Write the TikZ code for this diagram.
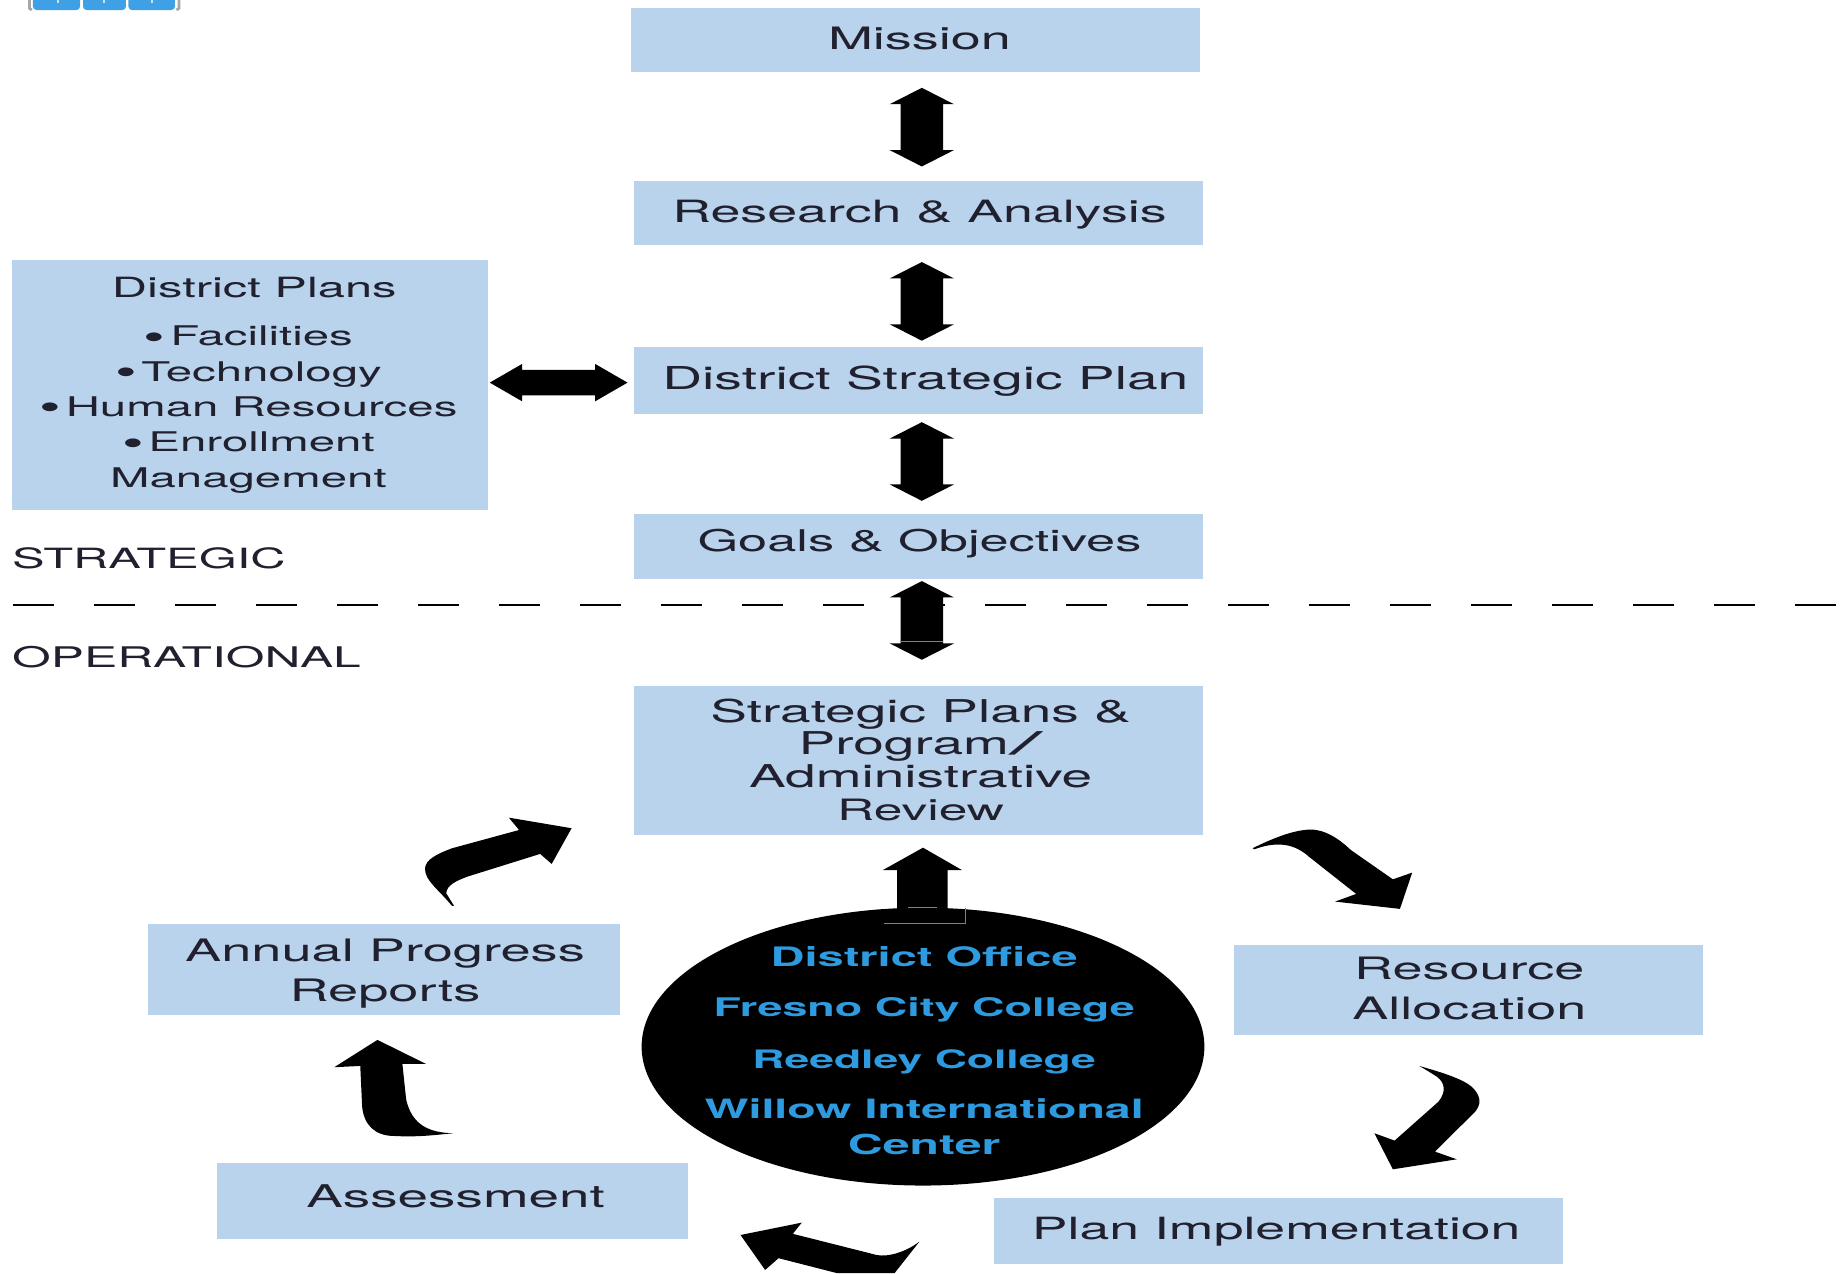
\documentclass[tikz,border=0pt]{standalone}
\usepackage{fontspec}
\setmainfont[FakeStretch=1.75]{TeX Gyre Heros}
\usetikzlibrary{shapes.geometric,shapes.arrows}
\definecolor{boxblue}{HTML}{BAD3ED}
\definecolor{inktext}{HTML}{20202E}
\definecolor{celltext}{HTML}{2E9BE0}
\definecolor{toolblue}{HTML}{3FA0E5}
\newcommand{\fs}[1]{\fontsize{#1pt}{14pt}\selectfont}
\newcommand{\bul}{\raisebox{-1.3pt}{\fontsize{15pt}{15pt}\selectfont •}\hspace{2pt}}
\tikzset{
  px/.style={x=0.5pt,y=-0.5pt},
  boxnode/.style={fill=boxblue,draw=none,inner sep=0pt,anchor=north west},
  label/.style={text=inktext,inner sep=0pt,align=center,font=\fontsize{12.9pt}{14pt}\selectfont},
  small/.style={text=inktext,inner sep=0pt,align=center,font=\fontsize{11.5pt}{15pt}\selectfont},
  cell/.style={text=celltext,inner sep=0pt,align=center,font=\bfseries\fontsize{11pt}{15pt}\selectfont},
  dbl/.style={shape=double arrow,fill=black,draw=none,inner sep=0pt,outer sep=0pt,
    minimum height=33.4pt,double arrow head extend=4.6pt,double arrow tip angle=126,rotate=90},
  blk/.style={fill=black,draw=none},
}
\newcommand{\boxat}[5]{\node[boxnode,minimum width=#4*0.5pt,minimum height=#5*0.5pt] (#1) at (#2,#3) {};}
\newcommand{\shaft}[1]{\rule{0pt}{#1}}
\begin{document}
\begin{tikzpicture}[px]
\useasboundingbox (0,0) rectangle (1568,1081.3);
% toolbar fragment
\draw[gray!70,line width=1.2pt] (25,0) -- (25,7) -- (27,8.5);
\draw[gray!70,line width=1.2pt] (152,0) -- (152,7) -- (150,8.5);
\foreach \a/\b in {28/68,70.5/107,109/148.6}{
  \fill[toolblue,rounded corners=1.5pt] (\a,-6) rectangle (\b,8.5);
}
\foreach \a in {49.5,88.5,129}{\fill[white!70!toolblue] (\a-1,0) rectangle (\a+1,2.5);}
% boxes
\boxat{mission}{535.5}{6.5}{483.5}{54.5}
\boxat{research}{538.5}{153.5}{482.5}{54.5}
\boxat{dsp}{538.5}{294.5}{482.5}{56.5}
\boxat{goals}{538.5}{436.5}{482.5}{54.5}
\boxat{plans}{9.5}{220.5}{405}{212}
\boxat{review}{538.5}{582.5}{482.5}{126.5}
\boxat{annual}{125.5}{784.5}{400.5}{77.5}
\boxat{assess}{183.5}{987.5}{400.5}{64.5}
\boxat{resource}{1047.5}{802.5}{398.5}{76.5}
\boxat{impl}{843.5}{1017.5}{483.5}{55.5}
% dashed line
\coordinate (dashl) at (11,514);
\coordinate (dashr) at (1568,514);
\draw[black,line width=1.1pt,dash pattern=on 17.4pt off 17pt] (dashl) -- (dashr);
% texts
\node[label,font=\fs{13.1}] (tmission) at (781,32.5) {Mission};
\node[label,font=\fs{13.05}] (tresearch) at (781,182) {Research \& Analysis};
\node[label,font=\fs{13.4}] (tdsp) at (786,324) {District Strategic Plan};
\node[label,font=\fs{12.7}] (tgoals) at (781,462) {Goals \& Objectives};
\node[small,font=\fs{11.85}] (tplanshead) at (216,244) {District Plans};
\node[small] (tplans) at (211,348) {\bul Facilities\\\bul Technology\\\bul Human Resources\\\bul Enrollment\\Management};
\node[small,anchor=west,font=\fs{11.85}] (tstrat) at (10,474) {STRATEGIC};
\node[small,anchor=west,font=\fs{12.07}] (toper) at (10,558) {OPERATIONAL};
\node[label,font=\fontsize{13.35pt}{14pt}\selectfont] (treview) at (782,645.5) {Strategic Plans \&\\Program\scalebox{2.2}[1]{/}\\Administrative\\{\fontsize{12.5pt}{14pt}\selectfont Review}};
\node[label,font=\fontsize{13.15pt}{17pt}\selectfont] (tannual) at (327,827) {Annual Progress\\Reports};
\node[label,font=\fs{13.3}] (tassess) at (387,1016) {Assessment};
\node[label,font=\fontsize{13.1pt}{17pt}\selectfont] (tresource) at (1248,839.5) {Resource\\Allocation};
\node[label,font=\fs{13.0}] (timpl) at (1084,1046) {Plan Implementation};
% straight double arrows
\node[dbl] (a1) at (783,108) {\shaft{17.7pt}};
\node[dbl] (a2) at (783,256) {\shaft{17.7pt}};
\node[dbl] (a3) at (783,392) {\shaft{17.7pt}};
\node[dbl] (a4) at (783,527) {\shaft{17.7pt}};
\draw[gray,line width=0.4pt] (764.6,544.6) -- (801,544.6);
\node[dbl,rotate=-90,minimum height=58.5pt,double arrow head extend=2.5pt,double arrow tip angle=60] (a5) at (474.5,325) {\shaft{10.5pt}};
% ellipse
\fill[black] (750,739) -- (784,720) -- (817,739) -- (805,739) -- (805,773) -- (762,773) -- (762,739) -- cycle;
\node[ellipse,fill=black,draw=none,minimum width=239pt,minimum height=118pt,inner sep=0pt] (hub) at (784,889) {};
\draw[gray,line width=0.4pt] (750.6,784.3) -- (820,784.3) -- (820,771);
\draw[gray,line width=0.4pt] (771.5,770.5) -- (796,770.5);
\node[cell,font=\bfseries\fs{11.4}] (h1) at (785,812.5) {District Office};
\node[cell,font=\bfseries\fs{10.9}] (h2) at (785,858) {Fresno City College};
\node[cell,font=\bfseries\fs{10.8}] (h3) at (785,902) {Reedley College};
\node[cell,font=\bfseries\fs{11.3}] (h4) at (785,942) {Willow International};
\node[cell,font=\bfseries\fs{11.7}] (h5) at (785,972.5) {Center};
% curved arrows
\fill[blk] (384,769.5) .. controls (372,755) and (361,748) .. (361,738) .. controls (361,730) and (372,725) .. (384,720.5)
  -- (440.9,705) -- (432.2,694.5) -- (485.5,703.5) -- (468.6,733.8) -- (458.8,725.3) -- (397,744.6)
  .. controls (388,748) and (379,752) .. (379.1,758.8) -- (385.7,769.5) -- cycle;
\fill[blk] (320.6,883.3) -- (283.9,906.5) -- (306,905.4) -- (307.6,939.9)
  .. controls (309,955) and (318,964.9) .. (335,964.9) .. controls (355,966) and (370,964) .. (384.7,962.6)
  .. controls (365,962) and (350,956) .. (345,934) -- (341.8,903.7) -- (361.9,903.7) -- cycle;
\fill[blk] (629,1049) -- (681,1038.5) -- (673.4,1048) -- (744.7,1066) .. controls (755,1068) and (770,1063) .. (781,1054.6)
  -- (759.9,1081.3) -- (710.6,1081.3) -- (661.3,1068.7) -- (649.9,1078.7) -- cycle;
\fill[blk] (1064,720.5) .. controls (1085,710) and (1105,703) .. (1118,705) .. controls (1130,707) and (1140,715) .. (1147.4,722)
  -- (1183.1,746.9) -- (1199.5,741.2) -- (1189.1,772) -- (1134,765.8) -- (1151.9,759.3) -- (1111.7,727.6)
  .. controls (1100,717) and (1085,714) .. (1065.5,721.4) -- cycle;
\fill[blk] (1205.5,905.4) .. controls (1225,911) and (1245,917) .. (1252,925) .. controls (1258,932) and (1258,938) .. (1253.2,944)
  -- (1218.9,978.2) -- (1237.4,984.7) -- (1183.1,993.2) -- (1167.4,962.6) -- (1184.6,968.8) -- (1221.9,935.7)
  .. controls (1228,928) and (1228,920) .. (1220.4,914.5) .. controls (1215,911) and (1210,908) .. (1205.5,905.4) -- cycle;
\end{tikzpicture}
\end{document}
